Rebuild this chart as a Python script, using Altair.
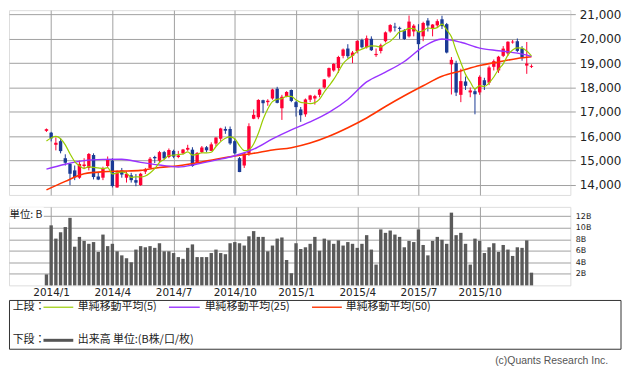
import altair as alt
import pandas as pd

# ---- weekly candles (week index 0 = week of 2013-12-30) ----
opens = [16222, 16148, 15650, 15800, 15100, 14870, 14600, 14300, 14780, 14700,
         15230, 14350, 14300, 14780, 15000, 13900, 14600, 14300, 14400, 14200,
         14000, 14550, 14700, 15150, 15000, 15350, 15150, 15400, 15150, 15300,
         15450, 15450, 14900, 15350, 15550, 15400, 15700, 15900, 16300, 16300,
         15800, 15100, 14800, 15300, 16720, 16780, 17480, 17400, 17550, 17950,
         17150, 17650, 17900, 17400, 17100, 16900, 17500, 17550, 17700, 18000,
         18450, 18700, 18800, 19300, 19600, 19300, 19500, 19950, 19650, 20000,
         19330, 19500, 19900, 20300, 20500, 20450, 20350, 20100, 20300, 20300,
         20100, 20750, 20400, 20550, 20800, 20600, 18950, 19000, 17700, 18250,
         17800, 17850, 17800, 18300, 18200, 18850, 18700, 19300, 19400, 19850,
         19900, 19600, 18900, 18850]
highs = [16320, 16180, 15950, 15921, 15260, 14900, 14800, 15000, 15100, 15312,
         15300, 14500, 14750, 15170, 15100, 14600, 14700, 14550, 14500, 14450,
         14500, 14700, 15150, 15200, 15400, 15400, 15500, 15450, 15400, 15480,
         15650, 15550, 15350, 15600, 15600, 15750, 15960, 16350, 16400, 16400,
         15900, 15150, 15350, 16533, 17100, 17520, 17500, 17520, 17950, 18030,
         17700, 17850, 17920, 17450, 17200, 17550, 17700, 17700, 17950, 18350,
         18820, 19000, 19300, 19600, 19778, 19500, 19950, 20006, 20133, 20100,
         19600, 19800, 20300, 20600, 20655, 20500, 20400, 20953, 20600, 20600,
         20700, 20850, 20600, 20800, 20946, 20650, 19250, 19100, 18770, 18450,
         18000, 17950, 18500, 18400, 18900, 19150, 19300, 19700, 19900, 19950,
         20012, 19700, 19869, 18950]
lows = [16177, 15790, 15422, 15300, 14800, 13995, 14200, 14250, 14650, 14600,
        14230, 14200, 14200, 14700, 13900, 13885, 14300, 14100, 14100, 13950,
        13964, 14450, 14700, 14900, 14900, 15050, 15100, 15100, 15100, 15250,
        15400, 14750, 14900, 15300, 15350, 15400, 15600, 15800, 16100, 15650,
        15250, 14529, 14700, 15200, 16700, 16700, 16950, 17250, 17500, 17350,
        16672, 17600, 17400, 16808, 16592, 16800, 17400, 17300, 17600, 17950,
        18400, 18650, 18600, 19200, 19200, 19000, 19400, 19600, 19600, 19500,
        19258, 19400, 19850, 20250, 20300, 19995, 19950, 20050, 20100, 19115,
        19900, 20300, 20100, 20450, 20400, 19400, 17714, 17650, 17400, 17900,
        17600, 16901, 17700, 17900, 18100, 18700, 18600, 19250, 19300, 19800,
        19450, 19100, 18562, 18800]
closes = [16291, 15912, 15734, 15391, 14914, 14462, 14313, 14865, 14841, 15274,
          14327, 14224, 14696, 15063, 13960, 14516, 14429, 14457, 14199, 14097,
          14462, 14632, 15077, 15097, 15349, 15095, 15437, 15164, 15215, 15457,
          15523, 14778, 15318, 15539, 15425, 15668, 15948, 16321, 16229, 15708,
          15300, 14532, 15291, 16413, 16880, 17490, 17357, 17459, 17920, 17371,
          17621, 17818, 17450, 17197, 16864, 17511, 17674, 17648, 17913, 18332,
          18798, 18971, 19254, 19560, 19286, 19435, 19908, 19653, 20020, 19531,
          19380, 19733, 20264, 20563, 20461, 20407, 19990, 20706, 20540, 19780,
          20650, 20544, 20585, 20724, 20519, 19436, 19136, 17792, 18264, 18070,
          17880, 17725, 18438, 18096, 18825, 19083, 19265, 19597, 19879, 19883,
          19504, 19230, 18986, 18886]
volumes = [1.9, 10.4, 8.1, 9.2, 10.1, 11.7, 6.7, 8.4, 7.7, 7.2,
           7.5, 5.8, 8.8, 6.8, 7.2, 5.9, 5.2, 4.7, 4.0, 6.2,
           6.8, 6.6, 6.8, 6.5, 7.3, 5.9, 5.9, 5.6, 4.9, 4.6,
           6.5, 7.1, 4.9, 4.9, 4.9, 5.6, 6.2, 5.6, 5.4, 7.3,
           7.5, 7.3, 6.9, 8.5, 9.4, 8.4, 8.4, 5.9, 6.9, 8.1,
           8.3, 4.4, 2.1, 7.3, 6.3, 6.6, 7.2, 8.4, 6.0, 8.1,
           7.8, 7.2, 7.8, 6.9, 7.5, 7.2, 6.5, 7.2, 8.7, 6.2,
           3.6, 9.7, 9.1, 9.5, 8.8, 8.4, 6.6, 7.7, 7.5, 9.7,
           7.0, 5.2, 7.7, 8.4, 7.9, 7.2, 12.6, 8.7, 9.1, 7.2,
           3.6, 8.1, 7.7, 5.6, 6.6, 7.3, 5.8, 7.0, 6.2, 5.1,
           6.6, 6.5, 7.8, 2.2]

# ---- moving averages ----
ma5 = [15808, 15931, 15997, 15901, 15648, 15283, 14963, 14789, 14679, 14751,
       14724, 14706, 14672, 14717, 14454, 14492, 14533, 14485, 14312, 14340,
       14329, 14369, 14493, 14673, 14923, 15050, 15211, 15228, 15252, 15274,
       15359, 15227, 15258, 15323, 15317, 15346, 15580, 15780, 15918, 15975,
       15901, 15618, 15412, 15449, 15683, 16121, 16686, 17120, 17421, 17519,
       17546, 17638, 17636, 17491, 17390, 17368, 17339, 17379, 17522, 17816,
       18073, 18332, 18654, 18983, 19174, 19301, 19489, 19568, 19660, 19709,
       19698, 19663, 19786, 19894, 20080, 20286, 20337, 20425, 20421, 20285,
       20333, 20444, 20420, 20457, 20604, 20362, 20080, 19521, 19029, 18540,
       18228, 17946, 18075, 18042, 18193, 18433, 18741, 18973, 19330, 19541,
       19626, 19619, 19496, 19298]
ma_weeks = [0, 4, 8, 12, 16, 20, 24, 28, 32, 36, 40, 44, 48, 52, 56, 60, 64,
            68, 72, 76, 80, 84, 88, 92, 96, 100, 103]
ma25 = [14650, 14850, 15000, 15050, 15060, 14930, 14820, 14740, 14860, 15020,
        15200, 15470, 15890, 16260, 16590, 16980, 17510, 18230, 18630, 19070,
        19670, 19990, 19860, 19620, 19510, 19410, 19280]
ma50 = [13800, 14150, 14460, 14545, 14570, 14600, 14720, 14790, 14910, 15060,
        15190, 15300, 15440, 15530, 15720, 16000, 16350, 16750, 17220, 17660,
        18070, 18460, 18680, 18900, 19050, 19190, 19260]

# ---- axis ticks and texts ----
tick_weeks = [1, 14, 27, 40, 53, 66, 79, 92]
tick_labels = ["2014/1", "2014/4", "2014/7", "2014/10",
               "2015/1", "2015/4", "2015/7", "2015/10"]
price_ticks = [14000, 15000, 16000, 17000, 18000, 19000, 20000, 21000]
volume_ticks = [2, 4, 6, 8, 10, 12]
unit_text = ["単位: B"]
legend_heads = ["上段：", "下段："]
legend_labels = ["単純移動平均(5)", "単純移動平均(25)", "単純移動平均(50)",
                 "出来高 単位:(B株/口/枚)"]
credit = ["(c)Quants Research Inc."]

# ---- styles ----
UP, DOWN = "#ff0033", "#1a3a94"
GREEN, PURPLE, RED, VOLC = "#99cc00", "#9933ff", "#ff3300", "#5a5a5a"
GRID = "#a0a0a0"
JP = "Noto Sans CJK JP"
TXT = "#222222"
W = 565

n = len(closes)
df = pd.DataFrame({"week": list(range(n)), "open": opens, "high": highs,
                   "low": lows, "close": closes, "volume": volumes})
df["dir"] = ["up" if c >= o else "down" for o, c in zip(opens, closes)]
ma5_df = pd.DataFrame({"week": list(range(n)), "v": ma5})
ma25_df = pd.DataFrame({"week": ma_weeks, "v": ma25})
ma50_df = pd.DataFrame({"week": ma_weeks, "v": ma50})

xs = alt.Scale(domain=[-6.9, 110.2], nice=False, zero=False)
ys = alt.Scale(domain=[13592, 21175], nice=False, zero=False)
vs = alt.Scale(domain=[0, 13.6], nice=False)

label_expr = "".join(f"datum.value == {w} ? '{l}' : " for w, l in zip(tick_weeks, tick_labels)) + "''"

top_x_axis = alt.Axis(values=tick_weeks, labels=False, ticks=False, domain=False,
                      grid=True, gridColor=GRID, title=None)
price_axis = alt.Axis(orient="right", values=price_ticks, format=",d", grid=True,
                      gridColor=GRID, domain=False, tickColor=GRID, tickSize=5,
                      labelPadding=4, labelFont="DejaVu Sans", labelFontSize=12,
                      labelColor=TXT, labelOverlap=False, title=None)
color = alt.Color("dir:N", scale=alt.Scale(domain=["up", "down"], range=[UP, DOWN]),
                  legend=None)


def tx():
    return alt.X("week:Q", scale=xs, axis=top_x_axis)


def ty(field):
    return alt.Y(field, scale=ys, axis=price_axis)


wick = alt.Chart(df).mark_rule(strokeWidth=1).encode(
    x=tx(), y=ty("low:Q"), y2="high:Q", color=color)
body = alt.Chart(df).mark_bar(size=3.4).encode(
    x=tx(), y=ty("open:Q"), y2="close:Q", color=color)
line50 = alt.Chart(ma50_df).mark_line(color=RED, strokeWidth=1.6, interpolate="monotone").encode(
    x=tx(), y=ty("v:Q"))
line25 = alt.Chart(ma25_df).mark_line(color=PURPLE, strokeWidth=1.4, interpolate="monotone").encode(
    x=tx(), y=ty("v:Q"))
line5 = alt.Chart(ma5_df).mark_line(color=GREEN, strokeWidth=1.2, interpolate="monotone").encode(
    x=tx(), y=ty("v:Q"))

top = alt.layer(wick, body, line50, line25, line5).properties(width=W, height=186)

bot_x_axis = alt.Axis(values=tick_weeks, labelExpr=label_expr, grid=True, gridColor=GRID,
                      ticks=False, tickSize=0, domain=False, labelPadding=2,
                      labelFont="DejaVu Sans", labelFontSize=10.5, labelColor=TXT,
                      labelOverlap=False, title=None)
vol_axis = alt.Axis(orient="right", values=volume_ticks, labelExpr="datum.value + 'B'",
                    grid=True, gridColor=GRID, ticks=False, tickSize=0, domain=False,
                    labelPadding=5, labelFont="DejaVu Sans", labelFontSize=8,
                    labelColor=TXT, labelOverlap=False, title=None)
bars = alt.Chart(df).mark_bar(size=3.4, color=VOLC).encode(
    x=alt.X("week:Q", scale=xs, axis=bot_x_axis),
    y=alt.Y("volume:Q", scale=vs, axis=vol_axis))

one = pd.DataFrame({"t": unit_text})
unit_bg = alt.Chart(one).mark_rect(color="white").encode(
    x=alt.value(0.5), x2=alt.value(35), y=alt.value(0.5), y2=alt.value(16))
unit_lbl = alt.Chart(one).mark_text(align="left", baseline="middle", font=JP,
                                    fontSize=10.5, color=TXT).encode(
    x=alt.value(0.5), y=alt.value(8), text="t:N")

box = alt.Chart(one).mark_rect(fillOpacity=0, stroke="#333333", strokeWidth=1).encode(
    x=alt.value(0.5), x2=alt.value(616), y=alt.value(94.2), y2=alt.value(143.3))


def txt(s, x, y, **kw):
    d = pd.DataFrame({"t": [s]})
    return alt.Chart(d).mark_text(align=kw.get("align", "left"), baseline="middle",
                                  font=kw.get("font", JP), fontSize=kw.get("size", 11),
                                  color=kw.get("color", TXT)).encode(
        x=alt.value(x), y=alt.value(y), text="t:N")


def seg(x1, x2, y, c, w):
    return alt.Chart(one).mark_rule(color=c, strokeWidth=w).encode(
        x=alt.value(x1), x2=alt.value(x2), y=alt.value(y))


legend_layers = [
    box,
    txt(legend_heads[0], 3.7, 101),
    seg(34.7, 64.7, 101, GREEN, 1.2), txt(legend_labels[0], 69.3, 101),
    seg(161, 192, 101, PURPLE, 1.4), txt(legend_labels[1], 197, 101),
    seg(305, 335, 101, RED, 1.4), txt(legend_labels[2], 339, 101),
    txt(legend_heads[1], 3.7, 134.3),
    seg(34.7, 64.7, 134.3, "#555555", 3), txt(legend_labels[3], 69.3, 134.3),
    txt(credit[0], 603, 155, align="right", font="Liberation Sans", size=10.5, color="#555555"),
]

bottom = alt.layer(bars, unit_bg, unit_lbl, *legend_layers).properties(width=W, height=79)

chart = alt.vconcat(top, bottom, spacing=10).properties(
    padding={"left": 0, "right": 0, "top": -2, "bottom": 0}
).configure_view(stroke=GRID, strokeWidth=1).configure(background="white")

chart.save("out.html", embed_options={"renderer": "svg", "actions": False})
